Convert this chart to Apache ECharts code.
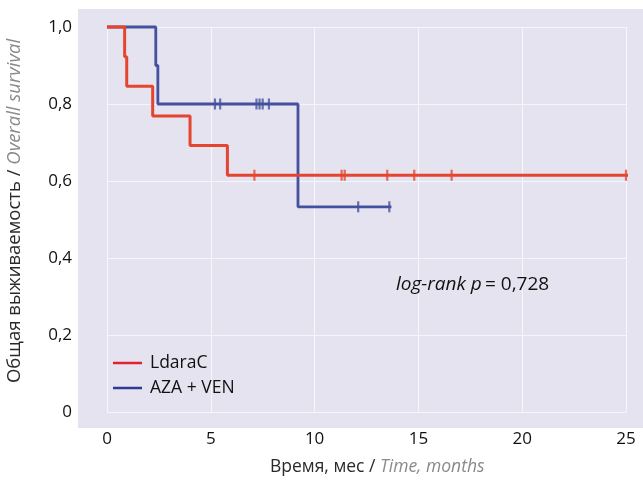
<!DOCTYPE html>
<html>
<head>
<meta charset="utf-8">
<script src="https://cdn.jsdelivr.net/npm/echarts@6/dist/echarts.min.js"></script>
<style>
  html, body { margin: 0; padding: 0; background: #fff; }
  #chart { width: 643px; height: 482px; }
</style>
</head>
<body>
<div id="chart"></div>
<script>
// Kaplan-Meier steps (months, survival)
const RED_T = [0, 0.85, 0.95, 2.2, 4.0, 5.8, 25.2];
const RED_S = [1, 0.923, 0.846, 0.769, 0.692, 0.615, 0.615];
const RED_CENSOR_T = [7.1, 11.3, 11.45, 13.5, 14.8, 16.6, 25.0];
const RED_CENSOR_S = [0.615, 0.615, 0.615, 0.615, 0.615, 0.615, 0.615];

const BLUE_T = [0, 2.35, 2.45, 9.2, 13.7];
const BLUE_S = [1, 0.9, 0.8, 0.533, 0.533];
const BLUE_CENSOR_T = [5.2, 5.45, 7.2, 7.35, 7.5, 7.8, 12.1, 13.6];
const BLUE_CENSOR_S = [0.8, 0.8, 0.8, 0.8, 0.8, 0.8, 0.533, 0.533];

const RED = '#e5452f';
const BLUE = '#45519e';
const FONT = '"Open Sans", "Noto Sans", sans-serif';
const TICK_FS = 17;

const zip = (a, b) => a.map((v, i) => [v, b[i]]);

const chart = echarts.init(document.getElementById('chart'), null, { renderer: 'canvas' });

chart.setOption({
  animation: false,
  textStyle: { fontFamily: FONT },
  grid: { left: 107, right: 17, top: 27, bottom: 70 },
  graphic: [
    {
      type: 'rect',
      z: -10,
      shape: { x: 78, y: 9, width: 565, height: 419 },
      style: { fill: '#e4e3ef' },
      silent: true
    },
    {
      type: 'text',
      z: 20,
      left: 396,
      top: 275,
      style: {
        text: '{i|log-rank p} {n|= 0,728}',
        rich: {
          i: { fontFamily: FONT, fontStyle: 'italic', fontSize: 19, fill: '#111' },
          n: { fontFamily: FONT, fontSize: 19, fill: '#111' }
        }
      }
    },
    {
      type: 'text',
      z: 20,
      left: 270,
      top: 458,
      style: {
        text: '{a|Время, мес / }{b|Time, months}',
        rich: {
          a: { fontFamily: FONT, fontSize: 17.5, fill: '#2a2a2a' },
          b: { fontFamily: FONT, fontSize: 17.5, fontStyle: 'italic', fill: '#8a8a8a' }
        }
      }
    },
    {
      type: 'text',
      z: 20,
      x: 15,
      y: 211,
      rotation: Math.PI / 2,
      style: {
        text: '{a|Общая выживаемость / }{b|Overall survival}',
        align: 'center',
        verticalAlign: 'middle',
        rich: {
          a: { fontFamily: FONT, fontSize: 18.5, fill: '#2a2a2a' },
          b: { fontFamily: FONT, fontSize: 18.5, fontStyle: 'italic', fill: '#8a8a8a' }
        }
      }
    }
  ],
  legend: {
    orient: 'vertical',
    left: 113,
    top: 354,
    padding: 0,
    itemWidth: 29,
    itemHeight: 2.5,
    itemGap: 7,
    icon: 'rect',
    textStyle: { fontSize: 17.5, color: '#111', fontFamily: FONT, padding: [0, 0, 0, 3] },
    data: [
      { name: 'LdaraC', itemStyle: { color: '#e2222e' } },
      { name: 'AZA + VEN', itemStyle: { color: '#2c3a92' } }
    ]
  },
  xAxis: {
    type: 'value',
    min: 0,
    max: 25,
    interval: 5,
    axisLine: { show: false },
    axisTick: { show: false },
    axisLabel: { fontSize: TICK_FS, color: '#111', margin: 19, fontFamily: FONT },
    splitLine: { lineStyle: { color: '#f6f6fa', width: 1.2 } }
  },
  yAxis: {
    type: 'value',
    min: 0,
    max: 1,
    interval: 0.2,
    axisLine: { show: false },
    axisTick: { show: false },
    axisLabel: {
      fontSize: TICK_FS,
      color: '#111',
      margin: 35,
      fontFamily: FONT,
      formatter: v => (v === 0 ? '0' : v.toFixed(1).replace('.', ','))
    },
    splitLine: { lineStyle: { color: '#f6f6fa', width: 1.2 } }
  },
  series: [
    {
      name: 'LdaraC',
      type: 'line',
      step: 'end',
      clip: false,
      symbol: 'none',
      color: RED,
      lineStyle: { width: 3, color: RED },
      data: zip(RED_T, RED_S),
      z: 3
    },
    {
      name: 'AZA + VEN',
      type: 'line',
      step: 'end',
      clip: false,
      symbol: 'none',
      color: BLUE,
      lineStyle: { width: 2.8, color: BLUE },
      data: zip(BLUE_T, BLUE_S),
      z: 2
    },
    {
      name: 'LdaraC',
      type: 'scatter',
      symbol: 'rect',
      symbolSize: [2.2, 11],
      clip: false,
      itemStyle: { color: RED },
      data: zip(RED_CENSOR_T, RED_CENSOR_S),
      z: 4
    },
    {
      name: 'AZA + VEN',
      type: 'scatter',
      symbol: 'rect',
      symbolSize: [2.2, 11],
      clip: false,
      itemStyle: { color: BLUE },
      data: zip(BLUE_CENSOR_T, BLUE_CENSOR_S),
      z: 4
    }
  ]
});
</script>
</body>
</html>
